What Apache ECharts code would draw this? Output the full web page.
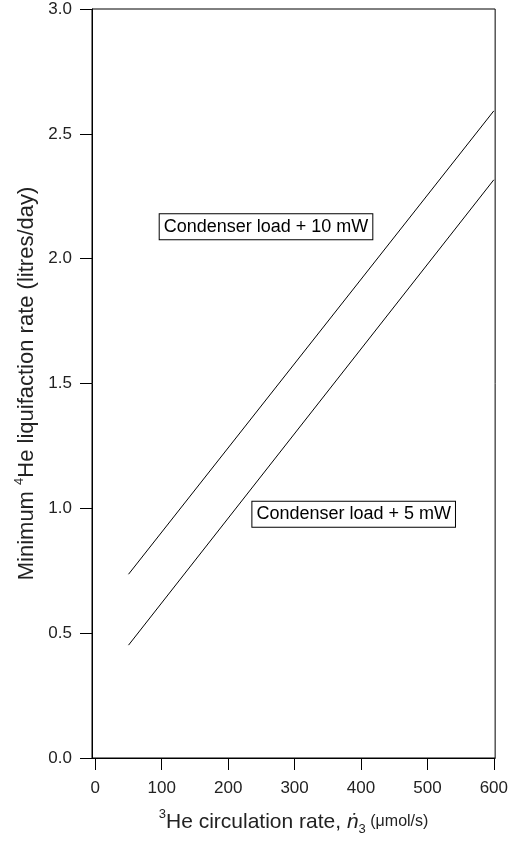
<!DOCTYPE html>
<html>
<head>
<meta charset="utf-8">
<script src="https://cdn.jsdelivr.net/npm/echarts@6/dist/echarts.min.js"></script>
<style>
  html, body { margin: 0; padding: 0; background: #fff; }
  #chart { width: 511px; height: 841px; }
</style>
</head>
<body>
<div id="chart"></div>
<script>
// values
var xTicks = [0, 100, 200, 300, 400, 500, 600];
var load10mW = [[50, 0.736], [600, 2.592]];
var load5mW = [[50, 0.452], [600, 2.316]];
var label10 = 'Condenser load + 10 mW';
var label5 = 'Condenser load + 5 mW';
var label10At = [257, 2.128];
var label5At = [389, 0.976];

var font = 'Arial, "Liberation Sans", sans-serif';

var chart = echarts.init(document.getElementById('chart'));

var boxLabel = {
    show: true,
    color: '#000',
    fontFamily: font,
    fontSize: 18,
    backgroundColor: '#fff',
    borderColor: '#000',
    borderWidth: 1,
    padding: [4, 4, 3, 4]
};

var option = {
    animation: false,
    backgroundColor: '#fff',
    grid: {
        left: 92, right: 13, top: 9, bottom: 82,
        show: true,
        borderColor: '#000',
        borderWidth: 1,
        backgroundColor: 'transparent'
    },
    xAxis: {
        type: 'value',
        min: -5,
        max: 602,
        name: '{sup|3}{n|He circulation rate, }{it|\u1E45}{sub|3}{sm| (\u03BCmol/s)}',
        nameLocation: 'middle',
        nameGap: 50,
        nameTextStyle: {
            color: '#000',
            rich: {
                n: { fontFamily: font, fontSize: 21, color: '#222', lineHeight: 28 },
                sup: { fontFamily: font, fontSize: 13, color: '#222', verticalAlign: 'top', lineHeight: 16 },
                it: { fontFamily: font, fontSize: 21, fontStyle: 'italic', color: '#222', lineHeight: 28 },
                sub: { fontFamily: font, fontSize: 13, color: '#222', verticalAlign: 'bottom', lineHeight: 16 },
                sm: { fontFamily: font, fontSize: 16, color: '#222', lineHeight: 28 }
            }
        },
        axisLine: { onZero: false, lineStyle: { color: '#000', width: 1 } },
        axisTick: { inside: false, length: 12, customValues: xTicks, lineStyle: { color: '#000' } },
        axisLabel: { customValues: xTicks, margin: 22, color: '#222', fontFamily: font, fontSize: 17 },
        splitLine: { show: false }
    },
    yAxis: {
        type: 'value',
        min: 0,
        max: 3,
        interval: 0.5,
        name: '{n|Minimum }{sup|4}{n|He liquifaction rate (litres/day)}',
        nameLocation: 'middle',
        nameGap: 50,
        nameTextStyle: {
            color: '#222',
            rich: {
                n: { fontFamily: font, fontSize: 22, color: '#222', lineHeight: 28 },
                sup: { fontFamily: font, fontSize: 13, color: '#222', verticalAlign: 'top', lineHeight: 16 }
            }
        },
        axisLine: { show: true, onZero: false, lineStyle: { color: '#000', width: 1 } },
        axisTick: { show: true, inside: false, length: 12, lineStyle: { color: '#000' } },
        axisLabel: {
            margin: 20, color: '#222', fontFamily: font, fontSize: 17,
            formatter: function (v) { return v.toFixed(1); }
        },
        splitLine: { show: false }
    },
    series: [
        {
            name: label10,
            type: 'line',
            data: load10mW,
            showSymbol: false,
            lineStyle: { color: '#000', width: 1 },
            markPoint: {
                symbol: 'rect',
                symbolSize: 0,
                label: Object.assign({ formatter: label10 }, boxLabel),
                data: [{ coord: label10At }]
            }
        },
        {
            name: label5,
            type: 'line',
            data: load5mW,
            showSymbol: false,
            lineStyle: { color: '#000', width: 1 },
            markPoint: {
                symbol: 'rect',
                symbolSize: 0,
                label: Object.assign({ formatter: label5 }, boxLabel),
                data: [{ coord: label5At }]
            }
        }
    ]
};

chart.setOption(option);
window.addEventListener('resize', chart.resize);
</script>
</body>
</html>
